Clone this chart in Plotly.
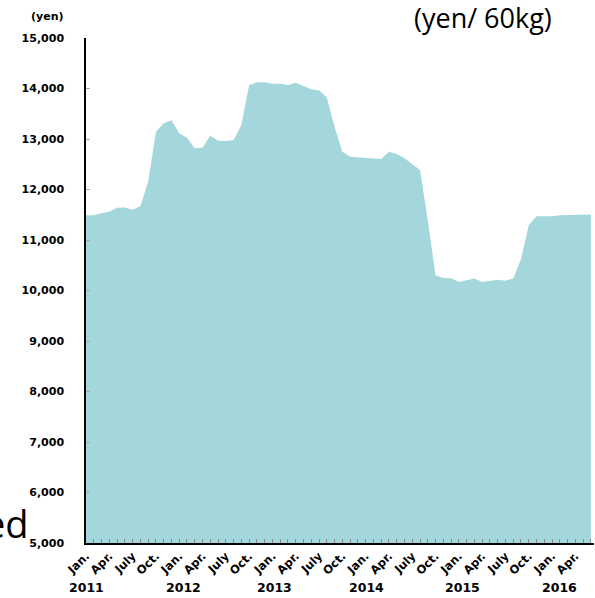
import plotly.graph_objects as go

# Monthly price (yen / 60kg), Jan 2011 onward
start_year = 2011
prices = [
    11490, 11490, 11530, 11560, 11640, 11645, 11600, 11667, 12155, 13145, 13310, 13370,  # 2011
    13113, 13026, 12815, 12826, 13066, 12967, 12960, 12980, 13277, 14070, 14122, 14122,  # 2012
    14096, 14096, 14070, 14116, 14050, 13983, 13963, 13822, 13244, 12750, 12650, 12640,  # 2013
    12635, 12628, 12604, 12750, 12703, 12617, 12505, 12386, 11396, 10300, 10250, 10245,  # 2014
    10170, 10210, 10240, 10170, 10195, 10215, 10195, 10240, 10617, 11297, 11470, 11465,  # 2015
    11468, 11488, 11495, 11500, 11508, 11505,  # 2016
]
month_names = ["Jan.", "", "", "Apr.", "", "", "July", "", "", "Oct.", "", ""]
year_labels = ["2011", "2012", "2013", "2014", "2015", "2016"]
year_label_pos = [0, 12.5, 24.3, 36.1, 48.5, 61]

months = [f"{start_year + i // 12}-{i % 12 + 1:02d}" for i in range(len(prices))]
ticktext = [month_names[i % 12] for i in range(len(prices))]

font_bold = "DejaVu Sans"

fig = go.Figure()
fig.add_trace(go.Scatter(
    x=list(range(len(prices))), y=prices, mode="lines",
    line=dict(width=0, color="#A4D7DC"),
    fill="tozeroy", fillcolor="#A4D7DC",
    hoverinfo="skip", showlegend=False,
))

fig.update_layout(
    width=595, height=598,
    margin=dict(l=86, r=1, t=38, b=55, autoexpand=False),
    paper_bgcolor="white", plot_bgcolor="white",
    xaxis=dict(
        range=[0, 65.4], tickmode="array",
        tickvals=list(range(len(prices))), ticktext=[f"<b>{t}</b>" for t in ticktext],
        tickangle=-45, ticks="inside", ticklen=4, tickcolor="#888888", tickwidth=1,
        showline=True, linecolor="black", linewidth=1.5, showgrid=False, zeroline=False,
        tickfont=dict(family=font_bold, size=11.5, color="black"),
        automargin=False,
    ),
    yaxis=dict(
        range=[5000, 15000], tickvals=list(range(5000, 15001, 1000)),
        ticktext=[f"<b>{v:,}</b>" for v in range(5000, 15001, 1000)],
        ticks="inside", ticklen=4, tickcolor="#aaaaaa", tickwidth=1,
        showline=True, linecolor="black", linewidth=1.5, showgrid=False, zeroline=False,
        tickfont=dict(family=font_bold, size=11, color="black"),
        ticklabelstandoff=18, automargin=False,
    ),
)

for lab, pos in zip(year_labels, year_label_pos):
    fig.add_annotation(x=pos, y=(543 - 587) / 505, xref="x", yref="paper", text=f"<b>{lab}</b>",
                       showarrow=False, font=dict(family=font_bold, size=12.5, color="black"),
                       xanchor="center", yanchor="middle")

fig.add_annotation(x=(47 - 86) / 508, y=(543 - 17) / 505, xref="paper", yref="paper",
                   text="<b>(yen)</b>", showarrow=False, xanchor="center", yanchor="middle",
                   font=dict(family=font_bold, size=11, color="black"))

fig.add_annotation(x=(483 - 86) / 508, y=(543 - 18) / 505, xref="paper", yref="paper",
                   text="(yen/ 60kg)", showarrow=False, xanchor="center", yanchor="middle",
                   font=dict(family="Open Sans", size=27, color="black"))

fig.add_annotation(x=(31 - 86) / 508, y=(543 - 551) / 505, xref="paper", yref="paper",
                   text="ed", showarrow=False, xanchor="right", yanchor="bottom",
                   font=dict(family="Open Sans", size=38, color="black"))

fig.write_html("out.html", post_script="document.body.style.margin='0';",
               config={"displayModeBar": False})
